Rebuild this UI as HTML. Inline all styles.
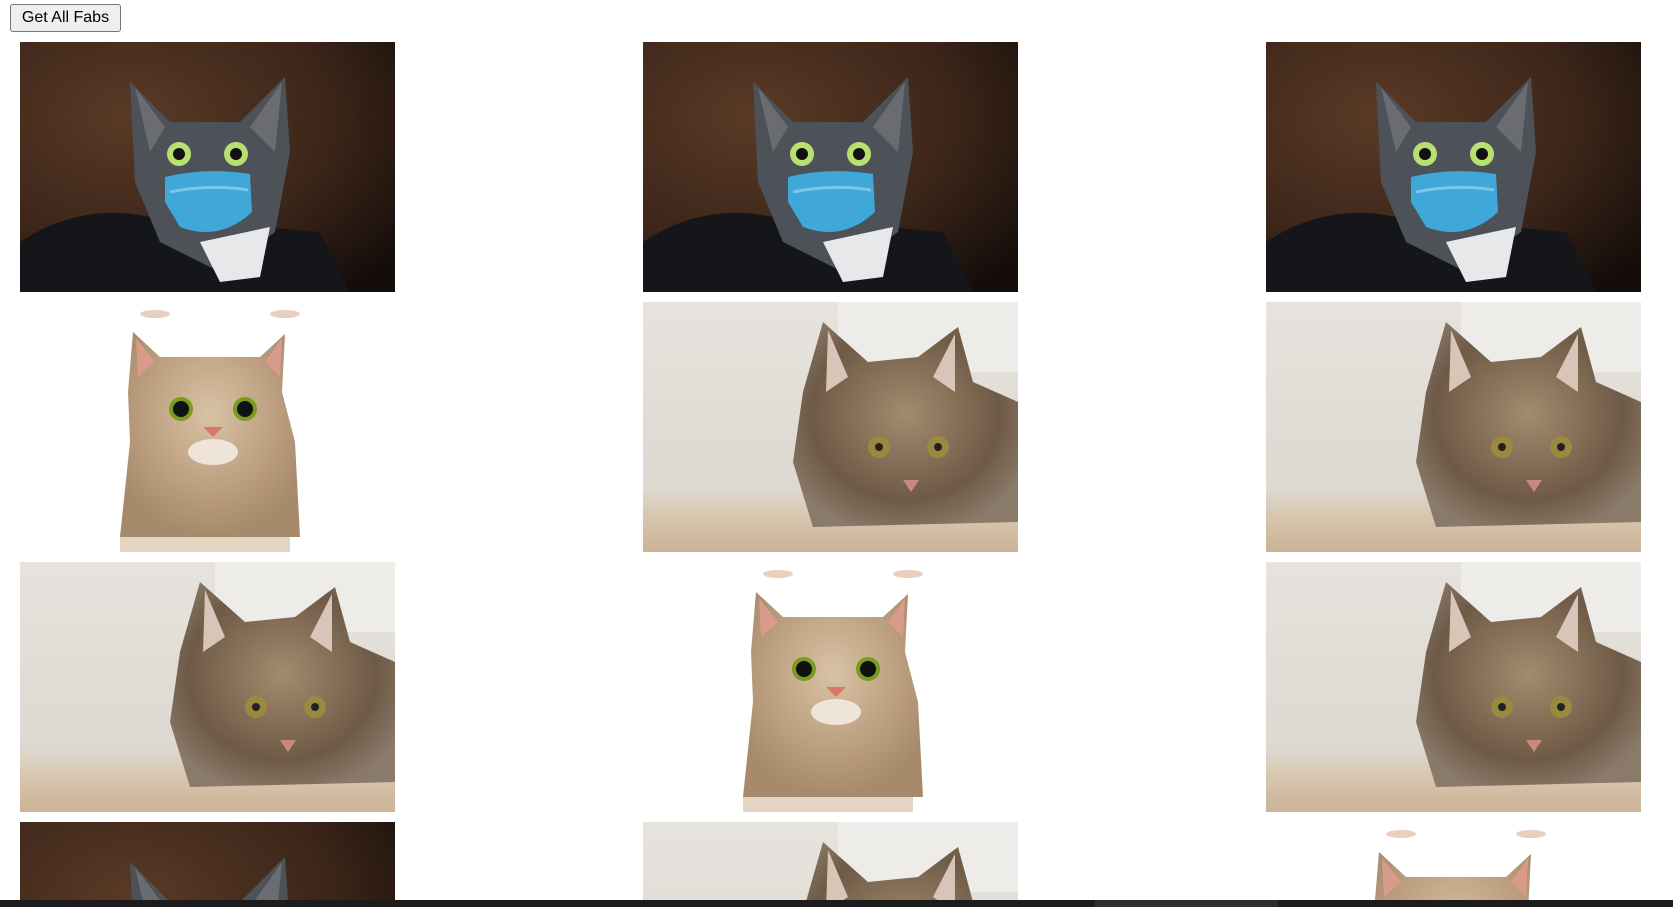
<!DOCTYPE html>
<html><head><meta charset="utf-8">
<style>
html,body{margin:0;padding:0;background:#fff;width:1673px;height:907px;overflow:hidden;position:relative;font-family:"Liberation Sans",Arial,sans-serif;}
#wrap{position:absolute;left:0;top:0;width:1673px;height:907px;overflow:hidden;}
#btn{position:absolute;left:10px;top:4px;width:111px;height:28px;box-sizing:border-box;border:1px solid #767676;border-radius:3px;background:#efefef;font-size:16px;color:#000;padding:0;font-family:"Liberation Sans",Arial,sans-serif;}
.tile{position:absolute;width:375px;height:250px;overflow:hidden;}
.tile svg{display:block;width:375px;height:250px;}
#bar{position:absolute;left:0;top:900px;width:1673px;height:7px;background:#1c1c1c;}
#thumb{position:absolute;left:1095px;top:0;width:183px;height:7px;background:#2e2e2e;}
</style></head>
<body>
<div id="wrap">
<button id="btn">Get All Fabs</button>
<svg width="0" height="0" style="position:absolute">
<defs>
<radialGradient id="brownbg" cx="0.3" cy="0.3" r="0.9"><stop offset="0" stop-color="#5a3a26"/><stop offset="0.6" stop-color="#3b2519"/><stop offset="1" stop-color="#140d0a"/></radialGradient>
<linearGradient id="lightbg" x1="0" y1="0" x2="0" y2="1"><stop offset="0" stop-color="#e6e3de"/><stop offset="0.75" stop-color="#ddd8d0"/><stop offset="0.85" stop-color="#d8c7b0"/><stop offset="1" stop-color="#cbb396"/></linearGradient>
<radialGradient id="tabby" cx="0.5" cy="0.45" r="0.6"><stop offset="0" stop-color="#a38b6e"/><stop offset="0.7" stop-color="#6e5a46"/><stop offset="1" stop-color="#8a7a6a"/></radialGradient>
<radialGradient id="tabby2" cx="0.5" cy="0.4" r="0.6"><stop offset="0" stop-color="#d9c2a4"/><stop offset="0.7" stop-color="#b79a7a"/><stop offset="1" stop-color="#a68a6b"/></radialGradient>
<symbol id="catA" viewBox="0 0 375 250">
<rect width="375" height="250" fill="url(#brownbg)"/>
<path d="M0 200 Q60 160 130 175 L300 190 L330 250 L0 250Z" fill="#15161a"/>
<path d="M110 40 L150 80 L220 80 L265 35 L270 110 L255 190 L200 230 L140 200 L115 140Z" fill="#4d5158"/>
<path d="M115 45 L145 85 L130 110Z" fill="#6a6c72"/>
<path d="M262 40 L230 85 L255 110Z" fill="#6a6c72"/>
<path d="M180 200 L250 185 L240 235 L200 240Z" fill="#e8e8ea"/>
<circle cx="159" cy="112" r="12" fill="#b8e070"/><circle cx="159" cy="112" r="6" fill="#111"/>
<circle cx="216" cy="112" r="12" fill="#b8e070"/><circle cx="216" cy="112" r="6" fill="#111"/>
<path d="M145 135 Q185 125 230 132 L232 170 Q200 200 160 185 L145 160Z" fill="#3fa8d8"/>
<path d="M150 150 Q190 142 228 148" stroke="#7bc6ea" stroke-width="3" fill="none"/>
</symbol>
<symbol id="catB" viewBox="0 0 375 250">
<rect width="375" height="250" fill="#fff"/>
<ellipse cx="135" cy="12" rx="15" ry="4" fill="#e8cfc0"/><ellipse cx="265" cy="12" rx="15" ry="4" fill="#e8cfc0"/>
<rect x="100" y="232" width="170" height="18" fill="#d8c2a8" opacity="0.7"/>
<path d="M113 30 L140 55 L240 55 L265 32 L262 90 L275 140 L280 235 L100 235 L110 140 L108 90Z" fill="url(#tabby2)"/>
<path d="M116 36 L135 60 L118 75Z" fill="#d89a8a"/>
<path d="M262 36 L245 60 L260 75Z" fill="#d89a8a"/>
<circle cx="161" cy="107" r="12" fill="#7a9a20"/><circle cx="161" cy="107" r="8" fill="#111"/>
<circle cx="225" cy="107" r="12" fill="#7a9a20"/><circle cx="225" cy="107" r="8" fill="#111"/>
<path d="M183 125 L203 125 L193 135Z" fill="#d8786a"/>
<ellipse cx="193" cy="150" rx="25" ry="13" fill="#eee4da"/>
</symbol>
<symbol id="catC" viewBox="0 0 375 250">
<rect width="375" height="250" fill="url(#lightbg)"/>
<rect x="195" y="0" width="180" height="70" fill="#f2f1ee" opacity="0.7"/>
<path d="M160 90 L180 20 L225 60 L275 55 L315 25 L330 80 L375 100 L375 220 L170 225 L150 160Z" fill="url(#tabby)"/>
<path d="M185 28 L205 75 L183 90Z" fill="#d9c4b8"/>
<path d="M312 32 L290 75 L312 90Z" fill="#d9c4b8"/>
<circle cx="236" cy="145" r="11" fill="#9a8a40"/><circle cx="236" cy="145" r="4" fill="#222"/>
<circle cx="295" cy="145" r="11" fill="#9a8a40"/><circle cx="295" cy="145" r="4" fill="#222"/>
<path d="M260 178 L276 178 L268 190Z" fill="#c88a80"/>
</symbol>
</defs>
</svg>
<div id="grid"></div>
<div id="bar"><div id="thumb"></div></div>
</div>
<script>
const cols=[20,643,1266];
const rows=[42,302,562,822];
const layout=[['A','A','A'],['B','C','C'],['C','B','C'],['A','C','B']];
const g=document.getElementById('grid');
layout.forEach((r,ri)=>r.forEach((t,ci)=>{
  const d=document.createElement('div');
  d.className='tile';
  d.style.left=cols[ci]+'px';d.style.top=rows[ri]+'px';
  d.style.height=Math.min(250,900-rows[ri])+'px';
  
  
  d.innerHTML='<svg viewBox="0 0 375 250"><use href="#cat'+t+'"/></svg>';
  g.appendChild(d);
}));
</script>
</body></html>
